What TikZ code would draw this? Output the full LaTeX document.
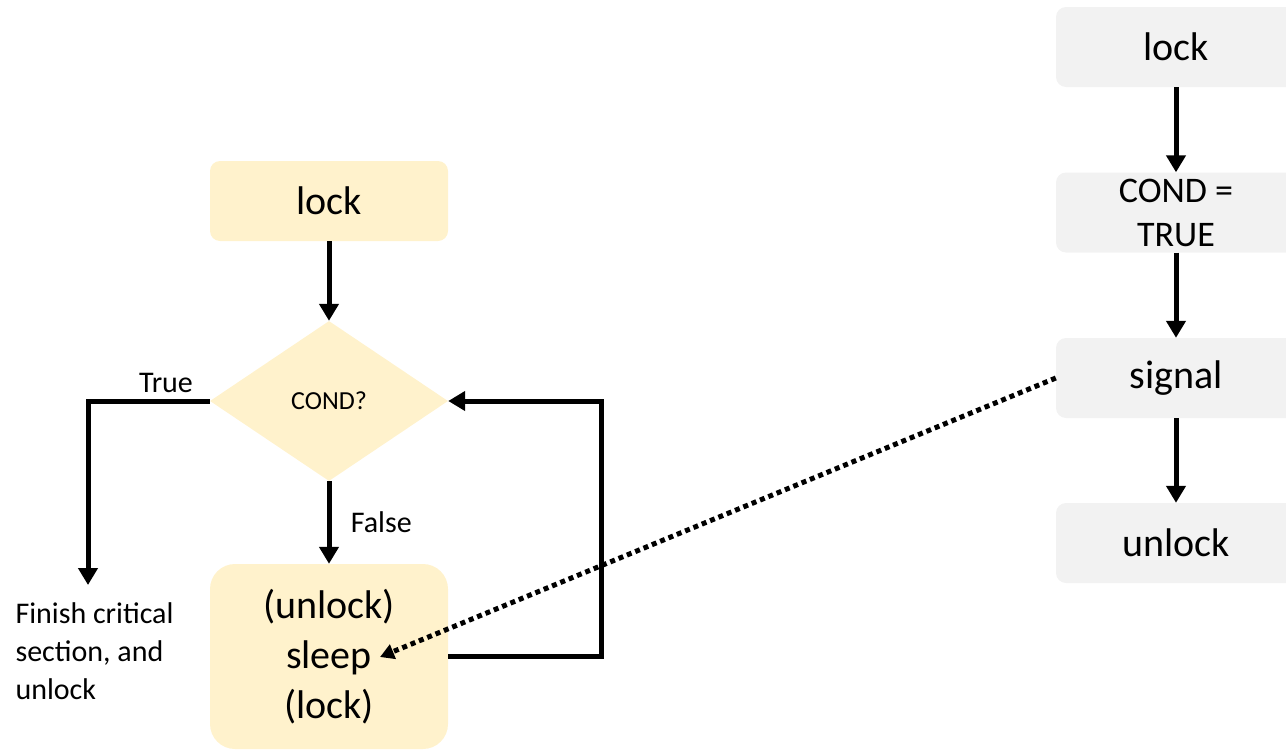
\documentclass[tikz,border=0pt]{standalone}
\usepackage{fontspec}
\setmainfont{Carlito}
\usetikzlibrary{shapes.geometric,arrows.meta}
\definecolor{yel}{HTML}{FFF2CC}
\definecolor{boxgrey}{HTML}{F2F2F2}
\begin{document}
\begin{tikzpicture}[x=1pt,y=-1pt,
    yelbox/.style={fill=yel,rounded corners=10pt,minimum width=238pt,minimum height=80pt,inner sep=0pt,font=\fontsize{40}{48}\selectfont},
    greybox/.style={fill=boxgrey,rounded corners=10pt,minimum width=240pt,minimum height=80pt,inner sep=0pt,align=center,font=\fontsize{40}{48}\selectfont},
    flow/.style={line width=5pt,-{Triangle[width=19pt,length=17pt]}},
    label/.style={font=\fontsize{30}{38}\selectfont}]
            \useasboundingbox (0,0) rectangle (1286,750);
            %waiting thread
            \node[yelbox] (lockA) at (329,201) {lock};
            \node[diamond,fill=yel,minimum width=238pt,minimum height=160pt,inner sep=0pt,
                font=\fontsize{26}{30}\selectfont] (cond) at (329,401) {COND?};
            \node[yelbox,rounded corners=25pt,minimum height=185pt,align=center,
                font=\fontsize{40}{50}\selectfont] (sleep) at (329,656.5) {(unlock)\\sleep\\(lock)};
            \node[label,align=left,anchor=west] (finish) at (12,651) {Finish critical\\section, and\\unlock};
            \coordinate (trueend) at (88,585);
            \draw[flow] (lockA) -- (cond);
            \draw[flow] (cond) -- (sleep) node[label,midway,right=16pt] {False};
            \draw[flow] (cond.west) -| (trueend) node[label,pos=0.18,above=2pt] {True};
            \draw[flow] (sleep.east) -- ++(153,0) |- (cond.east);
            %signalling thread
            \node[greybox] (lockB) at (1176,47) {lock};
            \node[greybox,font=\fontsize{36}{44}\selectfont] (set) at (1176,212.5) {COND =\\TRUE};
            \node[greybox] (signal) at (1176,378) {signal};
            \node[greybox] (unlock) at (1176,543) {unlock};
            \draw[flow] (lockB) -- (set);
            \draw[flow] (set) -- (signal);
            \draw[flow] (signal) -- (unlock);
            %wake up
            \coordinate (wake) at (380,657);
            \draw[line width=5pt,dash pattern=on 5pt off 4pt,-{Triangle[width=15pt,length=14pt]}] (signal.west) -- (wake);
        \end{tikzpicture}
\end{document}
